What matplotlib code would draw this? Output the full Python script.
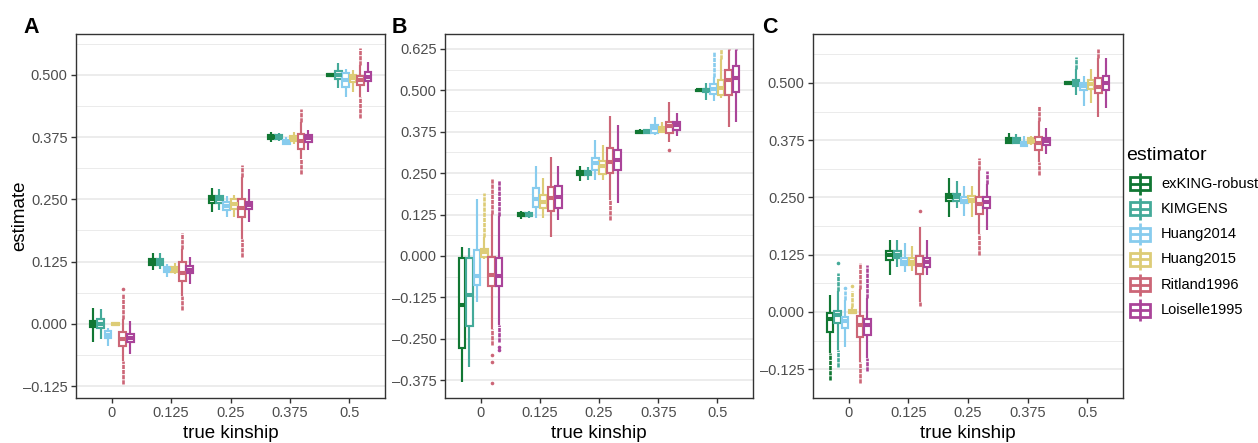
import matplotlib
matplotlib.use('Agg')
import matplotlib.pyplot as plt
from matplotlib.patches import Rectangle
from matplotlib.lines import Line2D
from matplotlib.ticker import FixedLocator

plt.rcParams['font.family'] = ['Liberation Sans', 'DejaVu Sans']

# ---------------- data ----------------
categories = ['0', '0.125', '0.25', '0.375', '0.5']
estimators = ['exKING-robust', 'KIMGENS', 'Huang2014', 'Huang2015', 'Ritland1996', 'Loiselle1995']
colors = ['#117733', '#44AA99', '#88CCEE', '#DDCC77', '#CC6677', '#AA4499']

# Panel A  (rows = estimators, columns = categories)
A_wlo = [[-0.036, 0.108, 0.225, 0.366, 0.496],
         [-0.030, 0.110, 0.228, 0.367, 0.474],
         [-0.045, 0.095, 0.215, 0.360, 0.455],
         [-0.005, 0.100, 0.215, 0.362, 0.465],
         [-0.075, 0.055, 0.170, 0.330, 0.455],
         [-0.060, 0.080, 0.205, 0.350, 0.465]]
A_q1 = [[-0.006, 0.119, 0.243, 0.371, 0.498],
        [-0.008, 0.119, 0.243, 0.371, 0.492],
        [-0.028, 0.104, 0.228, 0.362, 0.476],
        [-0.002, 0.105, 0.230, 0.368, 0.485],
        [-0.045, 0.085, 0.215, 0.352, 0.480],
        [-0.036, 0.102, 0.230, 0.366, 0.487]]
A_med = [[0.000, 0.125, 0.250, 0.375, 0.500],
         [0.000, 0.125, 0.250, 0.375, 0.500],
         [-0.022, 0.110, 0.236, 0.366, 0.490],
         [0.000, 0.110, 0.240, 0.373, 0.493],
         [-0.030, 0.102, 0.232, 0.368, 0.490],
         [-0.028, 0.109, 0.238, 0.373, 0.495]]
A_q3 = [[0.006, 0.131, 0.257, 0.379, 0.502],
        [0.009, 0.131, 0.256, 0.379, 0.507],
        [-0.015, 0.115, 0.245, 0.370, 0.504],
        [0.002, 0.115, 0.250, 0.378, 0.500],
        [-0.017, 0.125, 0.250, 0.382, 0.497],
        [-0.020, 0.117, 0.245, 0.380, 0.505]]
A_whi = [[0.032, 0.143, 0.273, 0.385, 0.504],
         [0.030, 0.142, 0.270, 0.383, 0.524],
         [-0.008, 0.120, 0.256, 0.376, 0.512],
         [0.004, 0.122, 0.258, 0.385, 0.510],
         [0.010, 0.150, 0.295, 0.405, 0.520],
         [0.005, 0.135, 0.270, 0.390, 0.525]]
A_olo = [[-0.036, 0.108, 0.225, 0.366, 0.496],
         [-0.030, 0.110, 0.228, 0.367, 0.474],
         [-0.045, 0.095, 0.215, 0.360, 0.455],
         [-0.005, 0.100, 0.215, 0.362, 0.465],
         [-0.120, 0.028, 0.135, 0.300, 0.413],
         [-0.060, 0.080, 0.205, 0.350, 0.465]]
A_ohi = [[0.032, 0.143, 0.273, 0.385, 0.504],
         [0.030, 0.142, 0.270, 0.383, 0.524],
         [-0.008, 0.120, 0.256, 0.376, 0.512],
         [0.004, 0.122, 0.258, 0.385, 0.510],
         [0.060, 0.183, 0.318, 0.432, 0.554],
         [0.005, 0.135, 0.270, 0.390, 0.525]]
A_iso = [(4, 0, 0.070)]

# Panel B
B_wlo = [[-0.382, 0.112, 0.225, 0.368, 0.495],
         [-0.334, 0.113, 0.230, 0.367, 0.470],
         [-0.138, 0.114, 0.230, 0.365, 0.468],
         [-0.010, 0.114, 0.230, 0.370, 0.478],
         [-0.220, 0.058, 0.169, 0.345, 0.390],
         [-0.210, 0.107, 0.159, 0.362, 0.404]]
B_q1 = [[-0.277, 0.120, 0.243, 0.372, 0.498],
        [-0.213, 0.120, 0.245, 0.371, 0.496],
        [-0.088, 0.149, 0.260, 0.372, 0.490],
        [-0.004, 0.144, 0.247, 0.375, 0.486],
        [-0.091, 0.136, 0.250, 0.372, 0.486],
        [-0.091, 0.144, 0.258, 0.380, 0.496]]
B_med = [[-0.148, 0.125, 0.250, 0.375, 0.500],
         [-0.118, 0.125, 0.250, 0.375, 0.500],
         [-0.060, 0.172, 0.280, 0.385, 0.505],
         [0.011, 0.163, 0.270, 0.383, 0.508],
         [-0.057, 0.175, 0.283, 0.393, 0.530],
         [-0.060, 0.179, 0.290, 0.395, 0.537]]
B_q3 = [[-0.007, 0.130, 0.257, 0.378, 0.502],
        [-0.007, 0.129, 0.255, 0.379, 0.505],
        [0.018, 0.206, 0.295, 0.395, 0.518],
        [0.021, 0.184, 0.287, 0.390, 0.531],
        [-0.004, 0.207, 0.326, 0.405, 0.562],
        [-0.007, 0.210, 0.320, 0.405, 0.574]]
B_whi = [[0.028, 0.137, 0.270, 0.382, 0.505],
         [0.023, 0.135, 0.268, 0.380, 0.523],
         [0.171, 0.270, 0.350, 0.420, 0.541],
         [0.058, 0.235, 0.335, 0.405, 0.595],
         [0.126, 0.300, 0.423, 0.466, 0.622],
         [0.120, 0.270, 0.395, 0.430, 0.622]]
B_olo = [[-0.382, 0.112, 0.225, 0.368, 0.495],
         [-0.334, 0.113, 0.230, 0.367, 0.470],
         [-0.138, 0.114, 0.230, 0.365, 0.468],
         [-0.010, 0.114, 0.230, 0.370, 0.478],
         [-0.270, 0.058, 0.109, 0.345, 0.390],
         [-0.260, 0.107, 0.159, 0.362, 0.404]]
B_ohi = [[0.028, 0.137, 0.270, 0.382, 0.505],
         [0.023, 0.135, 0.268, 0.380, 0.523],
         [0.171, 0.270, 0.350, 0.420, 0.617],
         [0.189, 0.235, 0.335, 0.405, 0.625],
         [0.231, 0.300, 0.423, 0.466, 0.625],
         [0.229, 0.270, 0.395, 0.430, 0.625]]
B_iso = [(4, 0, -0.300), (4, 0, -0.320), (4, 0, -0.384),
         (5, 0, -0.275), (5, 0, -0.284), (4, 3, 0.320)]

# Panel C
C_wlo = [[-0.090, 0.081, 0.208, 0.368, 0.495],
         [-0.083, 0.099, 0.227, 0.366, 0.474],
         [-0.076, 0.088, 0.210, 0.360, 0.450],
         [-0.005, 0.090, 0.208, 0.365, 0.456],
         [-0.110, 0.022, 0.170, 0.327, 0.425],
         [-0.100, 0.081, 0.179, 0.345, 0.445]]
C_q1 = [[-0.043, 0.114, 0.242, 0.370, 0.498],
        [-0.025, 0.117, 0.242, 0.370, 0.494],
        [-0.036, 0.103, 0.237, 0.362, 0.485],
        [-0.002, 0.103, 0.240, 0.368, 0.487],
        [-0.054, 0.083, 0.214, 0.354, 0.478],
        [-0.050, 0.099, 0.228, 0.364, 0.485]]
C_med = [[-0.016, 0.125, 0.250, 0.375, 0.500],
         [-0.007, 0.125, 0.250, 0.375, 0.500],
         [-0.020, 0.110, 0.243, 0.367, 0.493],
         [0.000, 0.110, 0.245, 0.373, 0.497],
         [-0.028, 0.103, 0.236, 0.368, 0.492],
         [-0.028, 0.108, 0.240, 0.373, 0.500]]
C_q3 = [[-0.003, 0.132, 0.258, 0.380, 0.502],
        [0.003, 0.132, 0.257, 0.380, 0.506],
        [-0.012, 0.117, 0.250, 0.372, 0.500],
        [0.004, 0.117, 0.254, 0.380, 0.507],
        [-0.009, 0.122, 0.250, 0.383, 0.511],
        [-0.016, 0.117, 0.250, 0.380, 0.516]]
C_whi = [[0.037, 0.157, 0.292, 0.390, 0.505],
         [0.045, 0.157, 0.285, 0.388, 0.530],
         [0.025, 0.150, 0.275, 0.385, 0.515],
         [0.010, 0.145, 0.275, 0.385, 0.530],
         [0.050, 0.186, 0.310, 0.418, 0.555],
         [0.030, 0.157, 0.280, 0.401, 0.554]]
C_olo = [[-0.149, 0.081, 0.208, 0.368, 0.495],
         [-0.120, 0.099, 0.227, 0.366, 0.474],
         [-0.076, 0.088, 0.210, 0.360, 0.450],
         [-0.005, 0.090, 0.208, 0.365, 0.456],
         [-0.156, 0.013, 0.125, 0.299, 0.425],
         [-0.130, 0.081, 0.179, 0.345, 0.445]]
C_ohi = [[0.037, 0.157, 0.292, 0.390, 0.505],
         [0.085, 0.157, 0.285, 0.388, 0.557],
         [0.045, 0.150, 0.275, 0.385, 0.515],
         [0.045, 0.145, 0.275, 0.385, 0.530],
         [0.106, 0.186, 0.336, 0.449, 0.574],
         [0.103, 0.157, 0.307, 0.401, 0.554]]
C_iso = [(1, 0, 0.107), (2, 0, 0.052), (3, 0, 0.057), (4, 1, 0.221)]

y_ticks_A = [-0.125, 0.0, 0.125, 0.25, 0.375, 0.5]
y_ticks_B = [-0.375, -0.25, -0.125, 0.0, 0.125, 0.25, 0.375, 0.5, 0.625]
y_ticks_C = [-0.125, 0.0, 0.125, 0.25, 0.375, 0.5]

# ---------------- styling ----------------
W, H = 1258, 443
fig = plt.figure(figsize=(W / 100, H / 100), dpi=100)

DODGE = 0.125
BOXW = 0.112
LW = 1.55
GRID = '#EBEBEB'
TICKC = '#4D4D4D'


def px_axes(x0, x1, y0, y1):
    return fig.add_axes([x0 / W, 1 - y1 / H, (x1 - x0) / W, (y1 - y0) / H])


def draw_panel(ax, wlo, q1, med, q3, whi, olo, ohi, iso, yticks, ylim):
    ax.set_facecolor('white')
    for j in range(len(estimators)):
        c = colors[j]
        for i in range(len(categories)):
            x = i + (j - 2.5) * DODGE
            # outliers drawn as dense stacks of points
            if olo[j][i] < wlo[j][i] - 1e-9:
                ax.plot([x, x], [olo[j][i], wlo[j][i]], color=c, lw=1.9,
                        ls=(0, (1.6, 0.35)), zorder=2)
            if ohi[j][i] > whi[j][i] + 1e-9:
                ax.plot([x, x], [whi[j][i], ohi[j][i]], color=c, lw=1.9,
                        ls=(0, (1.6, 0.35)), zorder=2)
            ax.plot([x, x], [wlo[j][i], q1[j][i]], color=c, lw=LW,
                    solid_capstyle='butt', zorder=3)
            ax.plot([x, x], [q3[j][i], whi[j][i]], color=c, lw=LW,
                    solid_capstyle='butt', zorder=3)
            ax.add_patch(Rectangle((x - BOXW / 2, q1[j][i]), BOXW,
                                   q3[j][i] - q1[j][i], facecolor='white',
                                   edgecolor=c, lw=LW, zorder=4))
            ax.plot([x - BOXW / 2, x + BOXW / 2], [med[j][i], med[j][i]],
                    color=c, lw=LW * 1.9, solid_capstyle='butt', zorder=5)
    for (j, i, v) in iso:
        x = i + (j - 2.5) * DODGE
        ax.plot([x], [v], 'o', color=colors[j], ms=2.6, mew=0, zorder=3)

    ax.set_xlim(-0.6, len(categories) - 0.4)
    ax.set_ylim(*ylim)
    ax.set_xticks(range(len(categories)))
    ax.set_xticklabels(categories)
    ax.set_yticks(yticks)
    ax.set_yticklabels(['{:.3f}'.format(t).replace('-', '\u2013') for t in yticks])
    minors = [t + 0.0625 for t in yticks] + [yticks[0] - 0.0625]
    ax.yaxis.set_minor_locator(FixedLocator(minors))
    ax.grid(axis='y', which='major', color=GRID, lw=1.3, zorder=0)
    ax.grid(axis='y', which='minor', color=GRID, lw=0.7, zorder=0)
    ax.grid(axis='x', visible=False)
    ax.set_axisbelow(True)
    ax.tick_params(axis='both', which='major', length=3.5, width=1.0,
                   color='#333333', labelcolor=TICKC, labelsize=10.5, pad=2.5)
    ax.tick_params(axis='y', which='minor', length=0)
    for s in ax.spines.values():
        s.set_color('#333333')
        s.set_linewidth(1.0)
    ax.set_xlabel('true kinship', fontsize=13.5, labelpad=3)


axA = px_axes(76, 385, 34, 398)
axB = px_axes(445, 753, 34, 398)
axC = px_axes(813, 1123, 34, 398)

draw_panel(axA, A_wlo, A_q1, A_med, A_q3, A_whi, A_olo, A_ohi, A_iso, y_ticks_A, (-0.149, 0.582))
draw_panel(axB, B_wlo, B_q1, B_med, B_q3, B_whi, B_olo, B_ohi, B_iso, y_ticks_B, (-0.429, 0.670))
draw_panel(axC, C_wlo, C_q1, C_med, C_q3, C_whi, C_olo, C_ohi, C_iso, y_ticks_C, (-0.188, 0.607))
axA.set_ylabel('estimate', fontsize=13.5, labelpad=-3.5)

for lab, xp in (('A', 23), ('B', 392), ('C', 762)):
    fig.text(xp / W, 1 - 33 / H, lab, fontsize=15.5, fontweight='bold', va='baseline', ha='left')

# ---------------- legend (drawn in figure pixel space) ----------------
def fx(px):
    return px / W


def fy(py):
    return 1 - py / H


fig.text(fx(1126), fy(156), 'estimator', fontsize=14, ha='left', va='center')
LEG_Y0, LEG_DY = 183.5, 25.3
for k, (name, c) in enumerate(zip(estimators, colors)):
    yc = LEG_Y0 + k * LEG_DY
    kx0, kx1 = 1129.5, 1149.5
    kxc = (kx0 + kx1) / 2
    fig.add_artist(Line2D([fx(kxc), fx(kxc)], [fy(yc - 11), fy(yc + 11)], color=c,
                          lw=2.0, transform=fig.transFigure, solid_capstyle='butt'))
    fig.add_artist(Rectangle((fx(kx0), fy(yc + 6.5)), fx(kx1) - fx(kx0), fy(yc - 6.5) - fy(yc + 6.5),
                             facecolor='white', edgecolor=c, lw=2.0, transform=fig.transFigure))
    fig.add_artist(Line2D([fx(kx0), fx(kx1)], [fy(yc), fy(yc)], color=c, lw=2.0,
                          transform=fig.transFigure, solid_capstyle='butt'))
    fig.text(fx(1161), fy(yc), name, fontsize=10.5, ha='left', va='center')

fig.savefig('out.png', dpi=100, facecolor='white')
